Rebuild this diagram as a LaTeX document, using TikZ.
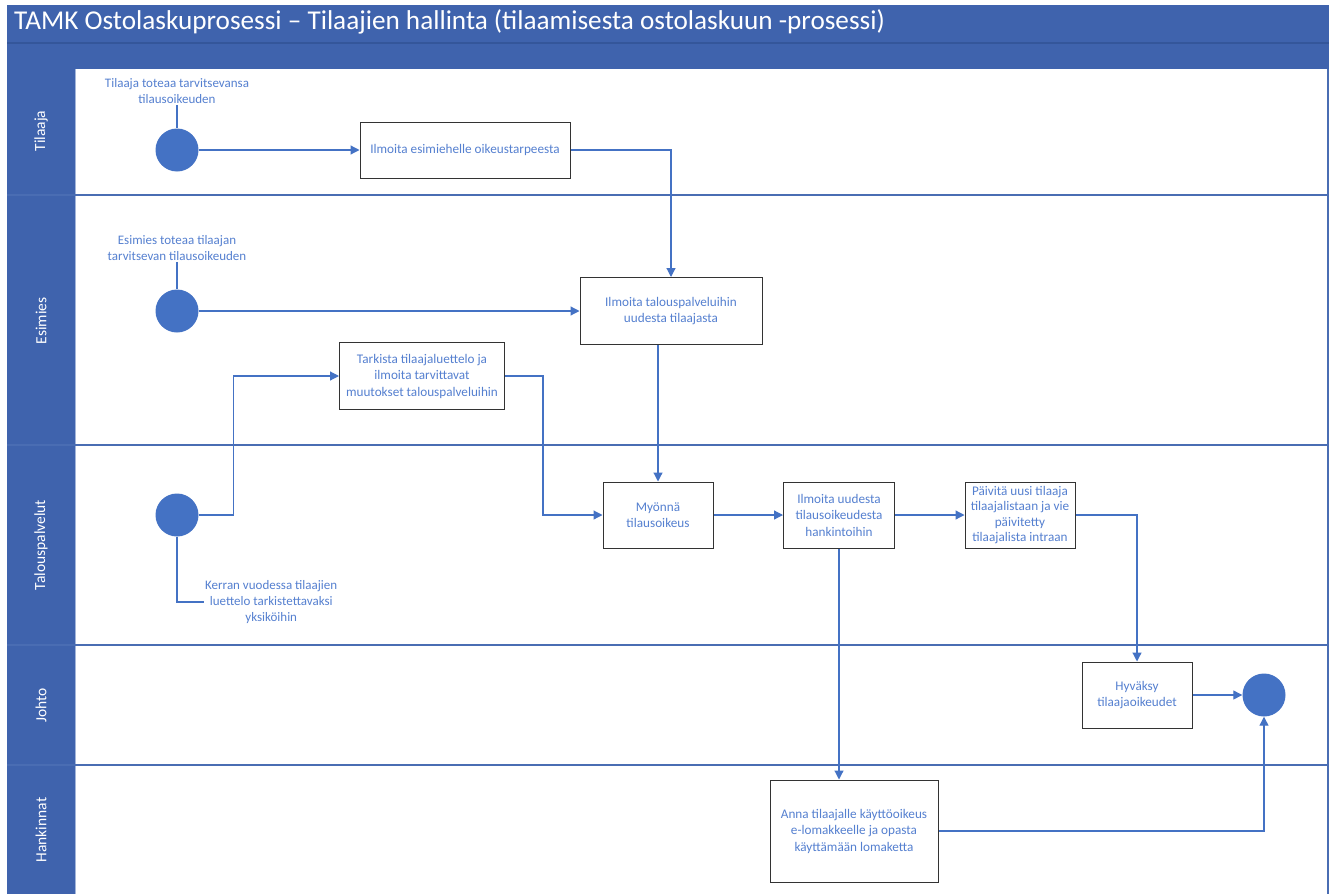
\documentclass[tikz,border=0pt]{standalone}
\usepackage{fontspec}
\setmainfont{Carlito}
\usetikzlibrary{arrows.meta}
\definecolor{band}{HTML}{3F63AD}
\definecolor{bandline}{HTML}{34569A}
\definecolor{laneline}{HTML}{4A6DB3}
\definecolor{cblue}{HTML}{4472C4}
\definecolor{txtblue}{HTML}{5580D0}
\tikzset{
  stepbox/.style={draw=black!80, line width=1pt, fill=white, text=txtblue, align=center,
    font=\fontsize{13.2}{16.5}\selectfont, inner sep=1pt},
  evt/.style={circle, fill=cblue, minimum size=43pt, inner sep=0pt},
  note/.style={text=txtblue, align=center, font=\fontsize{13}{16}\selectfont, inner sep=1pt},
  conn/.style={draw=cblue, line width=1.2pt, -{Triangle[length=9pt,width=9pt]}},
  plain/.style={draw=cblue, line width=1.2pt},
  lanelbl/.style={rotate=90, text=white, font=\fontsize{15.5}{18}\selectfont},
}
\begin{document}
\begin{tikzpicture}[x=1pt,y=-1pt]
\useasboundingbox (0,0) rectangle (1333,894);
\fill[white] (0,0) rectangle (1333,894);
% bands
\fill[band] (7,5) rectangle (1329,69);
\draw[bandline, line width=1.2pt] (7,43) -- (1329,43);
\fill[band] (7,69) rectangle (75,894);
\draw[laneline!50, line width=1pt] (75.5,69) -- (75.5,894);
\foreach \yy in {195,445,645,765} {\draw[laneline, line width=1.3pt] (7,\yy) -- (1328,\yy);}
\draw[laneline, line width=1.5pt] (1328,69) -- (1328,894);
\node[anchor=west, text=white, font=\fontsize{27.2}{30}\selectfont, inner sep=0pt] (title) at (14,22)
  {TAMK Ostolaskuprosessi – Tilaajien hallinta (tilaamisesta ostolaskuun -prosessi)};
% lane labels
\node[lanelbl] (lt) at (41,131) {Tilaaja};
\node[lanelbl] (le) at (41,321) {Esimies};
\node[lanelbl] (lp) at (41,545) {Talouspalvelut};
\node[lanelbl] (lj) at (41,705) {Johto};
\node[lanelbl] (lh) at (41,830) {Hankinnat};
% events
\node[evt] (c1) at (177,150) {};
\node[evt] (c2) at (177,311) {};
\node[evt] (c3) at (177,515) {};
\node[evt] (c4) at (1264,695) {};
% notes
\node[note] (n1) at (177,91) {Tilaaja toteaa tarvitsevansa\\tilausoikeuden};
\node[note] (n2) at (177,248) {Esimies toteaa tilaajan\\tarvitsevan tilausoikeuden};
\node[note, anchor=west] (n3) at (204,602) {Kerran vuodessa tilaajien\\luettelo tarkistettavaksi\\yksiköihin};
% boxes
\node[stepbox, minimum width=210pt, minimum height=56pt] (b1) at (465,150) {Ilmoita esimiehelle oikeustarpeesta};
\node[stepbox, minimum width=182pt, minimum height=67pt] (b2) at (671,311) {Ilmoita talouspalveluihin\\uudesta tilaajasta};
\node[stepbox, minimum width=165pt, minimum height=67pt] (b3) at (422,376) {Tarkista tilaajaluettelo ja\\ilmoita tarvittavat\\muutokset talouspalveluihin};
\node[stepbox, minimum width=110pt, minimum height=66pt] (b4) at (658,515) {Myönnä\\tilausoikeus};
\node[stepbox, minimum width=111pt, minimum height=66pt] (b5) at (839,515) {Ilmoita uudesta\\tilausoikeudesta\\hankintoihin};
\node[stepbox, minimum width=110pt, minimum height=66pt, inner sep=0.5pt, font=\fontsize{13.2}{15.5}\selectfont] (b6) at (1020,515) {Päivitä uusi tilaaja\\tilaajalistaan ja vie\\päivitetty\\tilaajalista intraan};
\node[stepbox, minimum width=110pt, minimum height=66pt] (b7) at (1137,695) {Hyväksy\\tilaajaoikeudet};
\node[stepbox, minimum width=168pt, minimum height=102pt] (b8) at (854,831) {Anna tilaajalle käyttöoikeus\\e-lomakkeelle ja opasta\\käyttämään lomaketta};
% connectors
\draw[plain] (n1.south) -- (c1.north);
\draw[plain] (n2.south) -- (c2.north);
\draw[plain] (c3.south) |- (n3.west);
\draw[conn] (c1.east) -- (b1.west);
\draw[conn] (b1.east) -| (b2.north);
\draw[conn] (c2.east) -- (b2.west);
\draw[conn] (c3.east) -- ++(35,0) |- (b3.west);
\draw[conn] (b3.east) -- ++(38,0) |- (b4.west);
\draw[conn] (b4.north |- b2.south) -- (b4.north);
\draw[conn] (b4.east) -- (b5.west);
\draw[conn] (b5.east) -- (b6.west);
\draw[conn] (b6.east) -| (b7.north);
\draw[conn] (b7.east) -- (c4.west);
\draw[conn] (b5.south) -- (b5.south |- b8.north);
\draw[conn] (b8.east) -| (c4.south);
\end{tikzpicture}
\end{document}
